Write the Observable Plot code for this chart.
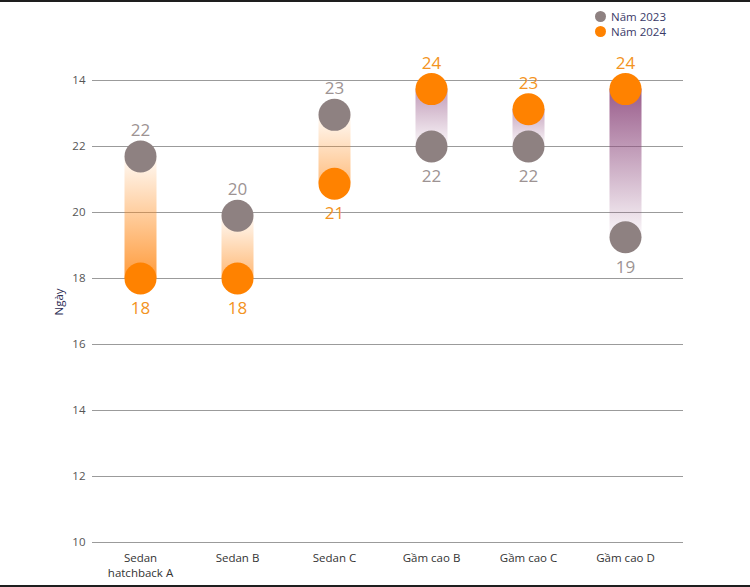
<!DOCTYPE html>
<html><head><meta charset="utf-8">
<script src="https://cdn.jsdelivr.net/npm/d3@7"></script>
<script src="https://cdn.jsdelivr.net/npm/@observablehq/plot@0.6"></script>
<style>
html,body{margin:0;padding:0;background:#fff;}
#wrap{position:relative;width:750px;height:587px;overflow:hidden;font-family:"Open Sans",sans-serif;background:#fff;}
.bline{position:absolute;left:0;width:750px;height:2px;background:#1e1e1e;z-index:2;}
#legend{position:absolute;left:595px;top:9px;font-size:11.5px;color:#3a3a68;line-height:15px;z-index:2;}
#legend .it{display:flex;align-items:center;}
#legend .sw{width:11px;height:11px;border-radius:50%;margin-right:5px;}
#chart{position:absolute;left:0;top:0;}
</style>
</head><body>
<div id="wrap">
  <div class="bline" style="top:0"></div>
  <div class="bline" style="top:585px"></div>
  <div id="legend"></div>
  <div id="chart"></div>
</div>
<script>
const categories = ["Sedan hatchback A","Sedan B","Sedan C","Gầm cao B","Gầm cao C","Gầm cao D"];
const xLabels = ["Sedan\nhatchback A","Sedan B","Sedan C","Gầm cao B","Gầm cao C","Gầm cao D"];
const v2023 = [21.7, 19.9, 22.96, 22.0, 22.0, 19.25];
const v2024 = [18.0, 18.0, 20.87, 23.74, 23.13, 23.74];
const yTicks = [10, 12, 14, 16, 18, 20, 22, 24];
const yTickLabels = ["10","12","14","16","18","20","22","14"];
const seriesNames = ["Năm 2023","Năm 2024"];
const seriesColors = ["#8e8181","#ff8200"];
const labelColors = ["#9d9393","#f39322"];
const gradStrength = [0.85, 0.6, 0.55, 0.55, 0.5, 0.9];

const data = categories.map((c,i)=>({cat:c, i, v23:v2023[i], v24:v2024[i]}));

// legend
const lg = d3.select("#legend");
seriesNames.forEach((n,i)=>{
  const it = lg.append("div").attr("class","it");
  it.append("div").attr("class","sw").style("background", seriesColors[i]);
  it.append("span").text(n);
});

const fmt = d3.format(".0f");
const font = "'Open Sans', sans-serif";

const chart = Plot.plot({
  width: 750, height: 587,
  marginLeft: 92, marginRight: 67, marginTop: 80, marginBottom: 45,
  x: {domain: categories, range: [90, 674], label: null},
  y: {domain: [10, 24], label: null},
  color: {type: "identity"},
  style: {fontFamily: font, fontSize: "11px", background: "transparent", overflow: "visible"},
  marks: [
    Plot.ruleY(yTicks, {stroke: "#9b9b9b", strokeWidth: 1}),
    Plot.axisY({ticks: yTicks, tickSize: 0, tickPadding: 7, tickFormat: (d) => yTickLabels[yTicks.indexOf(d)], fill: "#555", fontSize: 11.5}),
    Plot.text(["Ngày"], {frameAnchor: "left", dx: -33, dy: 4, rotate: -90, fill: "#2e2e55", fontSize: 11.5}),
    Plot.axisX({tickSize: 0, tickPadding: 9, tickFormat: (d) => xLabels[categories.indexOf(d)], fill: "#333", fontSize: 11.5, lineHeight: 1.3}),
    Plot.ruleX(data, {x: "cat", y1: "v23", y2: "v24", stroke: d => `url(#grad${d.i})`, strokeWidth: 32}),
    Plot.dot(data, {x: "cat", y: "v23", r: 16, fill: seriesColors[0]}),
    Plot.dot(data, {x: "cat", y: "v24", r: 16, fill: seriesColors[1]}),
    Plot.text(data, {filter: d => d.v23 > d.v24, x: "cat", y: "v23", text: d => fmt(d.v23), dy: -26, fill: labelColors[0], fontSize: 17}),
    Plot.text(data, {filter: d => d.v23 <= d.v24, x: "cat", y: "v23", text: d => fmt(d.v23), dy: 30, fill: labelColors[0], fontSize: 17}),
    Plot.text(data, {filter: d => d.v24 > d.v23, x: "cat", y: "v24", text: d => fmt(d.v24), dy: -26, fill: labelColors[1], fontSize: 17}),
    Plot.text(data, {filter: d => d.v24 <= d.v23, x: "cat", y: "v24", text: d => fmt(d.v24), dy: 30, fill: labelColors[1], fontSize: 17})
  ]
});

// gradients built from the plot's own y scale
const ys = chart.scale("y");
const svg = d3.select(chart.tagName.toLowerCase() === "svg" ? chart : chart.querySelector("svg"));
const defs = svg.insert("defs", ":first-child");
data.forEach(d => {
  const up = d.v24 > d.v23;
  const col = up ? "#8e4a7e" : "#ff8a1a";
  const g = defs.append("linearGradient").attr("id", `grad${d.i}`)
    .attr("gradientUnits", "userSpaceOnUse")
    .attr("x1", 0).attr("x2", 0)
    .attr("y1", ys.apply(d.v23)).attr("y2", ys.apply(d.v24));
  g.append("stop").attr("offset", "0").attr("stop-color", col).attr("stop-opacity", 0.04);
  g.append("stop").attr("offset", "1").attr("stop-color", col).attr("stop-opacity", gradStrength[d.i]);
});

document.getElementById("chart").appendChild(chart);
</script>
</body></html>
